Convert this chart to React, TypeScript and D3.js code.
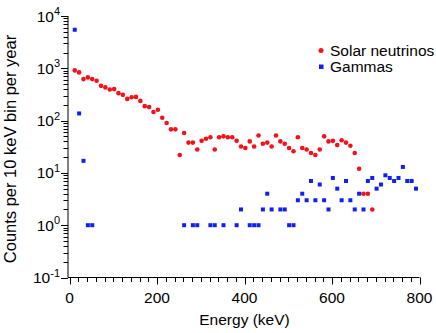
import * as d3 from "d3";

// bin centres in keV, counts per 10 keV bin per year
const solarEnergy = [
  12, 22, 32, 42, 52, 62, 72, 82, 92, 102, 112, 122, 132, 142, 152, 162, 172, 182, 192, 202,
  212, 222, 232, 242, 252, 262, 272, 282, 292, 302, 312, 322, 332, 342, 352, 362, 372, 382, 392, 402,
  412, 422, 432, 442, 452, 462, 472, 482, 492, 502, 512, 522, 532, 542, 552, 562, 572, 582, 592, 602,
  612, 622, 632, 642, 652, 662, 672, 682, 692,
];
const solarCounts = [
  912, 835, 621, 670, 621, 577, 462, 431, 394, 400, 335, 311, 260, 280, 284, 238, 189, 181, 146, 161,
  113, 90, 68, 68, 22, 58, 38, 38, 28, 41, 45, 48, 28, 48, 50, 48, 48, 41, 32, 30,
  40, 32, 52, 36, 38, 32, 52, 40, 36, 30, 26, 48, 30, 28, 24, 22, 28, 50, 40, 41,
  34, 42, 38, 33, 24, 12, 4, 4, 2,
];

const gammaEnergy = [
  12, 22, 32, 42, 52, 262, 282, 292, 322, 332, 352, 382, 392, 412, 422, 432, 442, 452, 462, 482,
  492, 502, 512, 522, 532, 542, 552, 562, 572, 582, 592, 602, 612, 622, 632, 642, 652, 662, 672, 682,
  692, 702, 712, 722, 732, 742, 752, 762, 772, 782, 792,
];
const gammaCounts = [
  5460, 137, 17, 1, 1, 1, 1, 1, 1, 1, 1, 1, 2, 1, 1, 1, 2, 4, 2, 2,
  2, 1, 1, 3, 4, 3, 7, 3, 6, 3, 2, 8, 5, 3, 7, 3, 2, 4, 2, 7,
  8, 5, 6, 9, 8, 7, 8, 13, 7, 7, 5,
];

const xTicks = [0, 200, 400, 600, 800];
const yExponents = [-1, 0, 1, 2, 3, 4];

const W = 436;
const H = 333;
const FONT = "'Liberation Sans', Arial, Helvetica, sans-serif";
const RED = "#f5101a";
const BLUE = "#1020f0";

export default function App() {
  const x = d3.scaleLinear().domain([0, 800]).range([69.5, 419.5]);
  const y = d3.scaleLog().domain([0.1, 10000]).range([277.5, 16]);
  const axisX = 68;
  const axisY = 277.5;

  const xMinor = d3.range(0, 801, 20);
  const yMinor: number[] = [];
  yExponents.slice(0, -1).forEach((e) => {
    for (let m = 2; m <= 9; m++) yMinor.push(m * Math.pow(10, e));
  });

  const solar = solarEnergy.map((e, i) => ({ e, v: solarCounts[i] }));
  const gammas = gammaEnergy.map((e, i) => ({ e, v: gammaCounts[i] }));

  return (
    <svg
      width={W}
      height={H}
      style={{ position: "absolute", left: 0, top: 0, background: "#fff" }}
      fontFamily={FONT}
    >
      {/* axes */}
      <line x1={axisX} x2={x(800)} y1={axisY} y2={axisY} stroke="#000" strokeWidth={1} />
      <line x1={axisX} x2={axisX} y1={y(10000)} y2={axisY} stroke="#000" strokeWidth={1} />

      {xMinor.map((t) => {
        const major = t % 200 === 0;
        return (
          <line
            key={"xt" + t}
            x1={Math.round(x(t)) + 0.5}
            x2={Math.round(x(t)) + 0.5}
            y1={axisY}
            y2={axisY + (major ? 7 : 4.5)}
            stroke="#000"
            strokeWidth={1}
          />
        );
      })}
      {xTicks.map((t) => (
        <text key={"xl" + t} x={x(t)} y={303} fontSize={15.5} textAnchor="middle" fill="#000">
          {t}
        </text>
      ))}

      {yMinor.map((t) => (
        <line
          key={"ym" + t}
          x1={axisX - 4.5}
          x2={axisX}
          y1={Math.round(y(t)) + 0.5}
          y2={Math.round(y(t)) + 0.5}
          stroke="#000"
          strokeWidth={1}
        />
      ))}
      {yExponents.map((e) => {
        const yy = y(Math.pow(10, e));
        return (
          <g key={"yl" + e}>
            <line x1={axisX - 7} x2={axisX} y1={Math.round(yy) + 0.5} y2={Math.round(yy) + 0.5} stroke="#000" />
            <text x={60} y={yy + 5.5} fontSize={15.5} textAnchor="end" fill="#000">
              10
              <tspan dy={-6.5} fontSize={11}>
                {e}
              </tspan>
            </text>
          </g>
        );
      })}

      {/* axis titles */}
      <text x={x(400)} y={325} fontSize={15.5} textAnchor="middle" fill="#000">
        Energy (keV)
      </text>
      <text
        transform={`translate(16,149) rotate(-90)`}
        fontSize={16.5}
        textAnchor="middle"
        fill="#000"
      >
        Counts per 10 keV bin per year
      </text>

      {/* data */}
      {solar.map((d, i) => (
        <circle key={"s" + i} cx={x(d.e)} cy={y(d.v)} r={2.3} fill={RED} />
      ))}
      {gammas.map((d, i) => (
        <rect key={"g" + i} x={x(d.e) - 2} y={y(d.v) - 2} width={4} height={4} fill={BLUE} />
      ))}

      {/* legend */}
      <circle cx={321} cy={50.5} r={2.5} fill={RED} />
      <text x={330} y={56} fontSize={15.5} fill="#000">
        Solar neutrinos
      </text>
      <rect x={319} y={64.5} width={4.5} height={4.5} fill={BLUE} />
      <text x={330} y={72} fontSize={15.5} fill="#000">
        Gammas
      </text>
    </svg>
  );
}
